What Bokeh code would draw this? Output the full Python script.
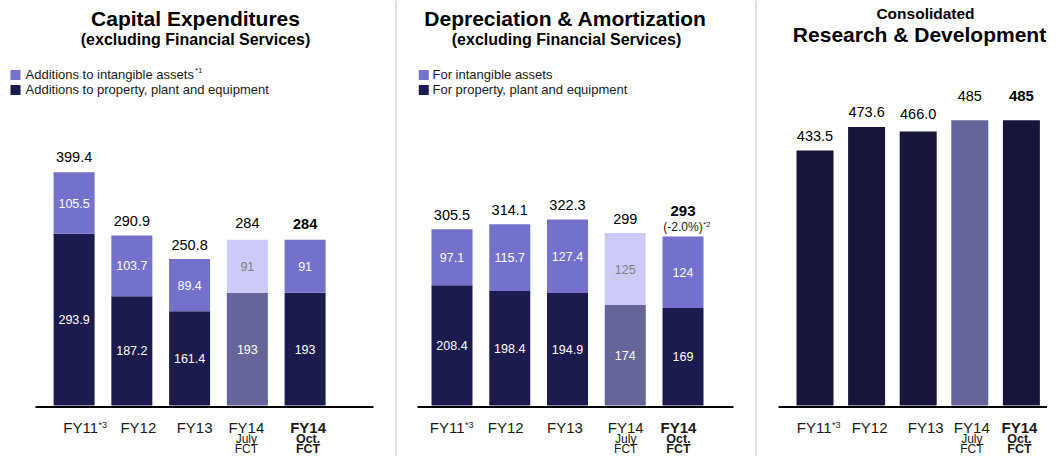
import numpy as np
from bokeh.plotting import figure
from bokeh.models import Range1d, Span
from bokeh.layouts import row
from bokeh.embed import file_html
from bokeh.resources import INLINE
from bokeh.core.properties import value

# ---------------- data ----------------
categories = ["FY11", "FY12", "FY13", "FY14", "FY14"]
cat_sup = ["*3", "", "", "", ""]
cat_line2 = ["", "", "", "July", "Oct."]
cat_line3 = ["", "", "", "FCT", "FCT"]
cat_bold = [False, False, False, False, True]
decimals = [1, 1, 1, 0, 0]
is_july = [False, False, False, True, False]

capex_intangible = [105.5, 103.7, 89.4, 91, 91]
capex_ppe = [293.9, 187.2, 161.4, 193, 193]

da_intangible = [97.1, 115.7, 127.4, 125, 124]
da_ppe = [208.4, 198.4, 194.9, 174, 169]
da_change_note = "(-2.0%)"
da_change_sup = "*2"

rd_values = [433.5, 473.6, 466.0, 485, 485]

capex_legend = ["Additions to intangible assets", "Additions to property, plant and equipment"]
da_legend = ["For intangible assets", "For property, plant and equipment"]

# ---------------- styles ----------------
FONT = "Liberation Sans"
H = 456
TOP = 0
BASE = 405          # pixel row of the zero line
DARK = "#1c1b4e"
PURPLE = "#7371cc"
LIGHT = "#cccbf8"
MUTED = "#66659a"
RD_DARK = "#17163a"
GRAY_TXT = "#808080"
TXT = "#1a1a1a"
MID = 0.355         # cap-centre above baseline, as a fraction of font size

capex_gap = [10, 9, 9, 11.5, 10]
da_gap = [9, 9, 9, 9, 20]
rd_gap = [9.5, 10, 12, 19, 19]
nudge1 = [10, 6.5, 5, -1, 3]
nudge2 = [-1.5, -4, -2.5, 0.5, -4.5]
nudge3 = [2.5, 3, 7.5, 2, -2]

S1, S2, S3 = 0.584, 0.577, 0.588
ROW1, ROW2, ROW3 = 432, 443, 453


def fmt(v, d):
    return f"{v:.{d}f}"


def build(width, ref_left, c0, step, base, scale):
    x0 = (ref_left - c0) / step
    x1 = (ref_left + width - c0) / step
    p = figure(width=width, height=H, output_backend="svg", toolbar_location=None, tools="",
               x_range=Range1d(x0, x1),
               y_range=Range1d((base - TOP - H) / scale, (base - TOP) / scale),
               min_border=0, x_axis_location=None, y_axis_location=None)
    p.xgrid.visible = False
    p.ygrid.visible = False
    p.outline_line_color = None
    p.background_fill_color = "white"
    p.border_fill_color = "white"
    X = lambda rx: (rx - c0) / step
    Y = lambda ry: (base - ry) / scale
    return p, X, Y


def label(p, x, y, t, size, bold=False, color="#000000", align="center", xoff=0):
    # y is the (data) position of the text's centre line
    p.text(x=[x], y=[y], text=[t], text_font=value(FONT), text_font_size=value(f"{size}px"),
           text_font_style="bold" if bold else "normal", text_color=color,
           text_align=align, text_baseline="middle", x_offset=xoff)


def blabel(p, Y, x, base_px, t, size, bold=False, color="#000000", align="center", xoff=0):
    # place by baseline pixel row
    label(p, x, Y(base_px - MID * size), t, size, bold, color, align, xoff)


def top_label(p, x, top, gap_px, scale, t, size, bold=False, color="#000000", align="center", xoff=0):
    label(p, x, top + (gap_px + MID * size) / scale, t, size, bold, color, align, xoff)


def x_labels(p, Y, nudge):
    for i, cat in enumerate(categories):
        b = cat_bold[i]
        if cat_sup[i]:
            blabel(p, Y, i, ROW1, cat, 15, b, TXT, "right", nudge[i] + 14)
            blabel(p, Y, i, ROW1 - 4.5, cat_sup[i], 9, b, TXT, "left", nudge[i] + 14.5)
        else:
            blabel(p, Y, i, ROW1, cat, 15, b, TXT, "center", nudge[i])
        if cat_line2[i]:
            blabel(p, Y, i, ROW2, cat_line2[i], 12.5 if b else 12, b, TXT, "center", nudge[i])
        if cat_line3[i]:
            blabel(p, Y, i, ROW3, cat_line3[i], 12.5 if b else 12, b, TXT, "center", nudge[i])


def stacked(p, idx, lower, upper, width):
    lower = np.array(lower, dtype=float)
    upper = np.array(upper, dtype=float)
    total = lower + upper
    low_col = [MUTED if j else DARK for j in is_july]
    up_col = [LIGHT if j else PURPLE for j in is_july]
    p.vbar(x=idx, width=width, bottom=0, top=lower, fill_color=low_col, line_color=None)
    p.vbar(x=idx, width=width, bottom=lower, top=total, fill_color=up_col, line_color=None)
    for i in idx:
        label(p, i, lower[i] / 2, fmt(lower[i], decimals[i]), 12.5, color="white")
        label(p, i, lower[i] + upper[i] / 2, fmt(upper[i], decimals[i]), 12.5,
              color=GRAY_TXT if is_july[i] else "white")
    return total


idx = np.arange(len(categories))

# ---------------- panel 1 : Capex ----------------
p1, X1, Y1 = build(392, 0, 73.6, 57.75, BASE, S1)
tot1 = stacked(p1, idx, capex_ppe, capex_intangible, 41 / 57.75)
for i in idx:
    top_label(p1, i, tot1[i], capex_gap[i], S1, fmt(tot1[i], decimals[i]), 14.5, cat_bold[i])
p1.segment(x0=[X1(35)], x1=[X1(373)], y0=[Y1(BASE + 1.5)], y1=[Y1(BASE + 1.5)], line_color="black", line_width=2)
x_labels(p1, Y1, nudge1)
blabel(p1, Y1, X1(195), 25, "Capital Expenditures", 21, True)
blabel(p1, Y1, X1(195), 45, "(excluding Financial Services)", 16, True)
p1.scatter(x=[X1(15), X1(15)], y=[Y1(74.5), Y1(89.5)], marker="square", size=10,
           fill_color=[PURPLE, DARK], line_color=None)
blabel(p1, Y1, X1(25), 78.5, capex_legend[0], 13, False, TXT, "left")
blabel(p1, Y1, X1(194.5), 73, "*1", 8, False, TXT, "left")
blabel(p1, Y1, X1(25), 93.5, capex_legend[1], 13, False, TXT, "left")

# ---------------- panel 2 : D&A ----------------
p2, X2, Y2 = build(360, 392, 451.5, 57.75, BASE, S2)
tot2 = stacked(p2, idx, da_ppe, da_intangible, 41 / 57.75)
for i in idx:
    top_label(p2, i, tot2[i], da_gap[i], S2, fmt(tot2[i], decimals[i]),
              15 if cat_bold[i] else 14.5, cat_bold[i])
last = len(categories) - 1
top_label(p2, last, tot2[last], 5, S2, da_change_note, 12, False, TXT)
top_label(p2, last, tot2[last], 9.5, S2, da_change_sup, 8, False, TXT, "left", 20)
p2.segment(x0=[X2(417)], x1=[X2(733)], y0=[Y2(BASE + 1.5)], y1=[Y2(BASE + 1.5)], line_color="black", line_width=2)
x_labels(p2, Y2, nudge2)
blabel(p2, Y2, X2(565), 25, "Depreciation & Amortization", 21, True)
blabel(p2, Y2, X2(566), 44.5, "(excluding Financial Services)", 16, True)
p2.scatter(x=[X2(423.3), X2(423.3)], y=[Y2(74.5), Y2(89.5)], marker="square", size=10,
           fill_color=[PURPLE, DARK], line_color=None)
blabel(p2, Y2, X2(432), 78.5, da_legend[0], 13, False, TXT, "left")
blabel(p2, Y2, X2(432), 93.5, da_legend[1], 13, False, TXT, "left")
p2.add_layout(Span(location=X2(395.5), dimension="height", line_color="#808080",
                   line_width=1, line_dash="1 1"))

# ---------------- panel 3 : R&D ----------------
p3, X3, Y3 = build(295, 752, 814.5, 51.6, BASE, S3)
rd = np.array(rd_values, dtype=float)
rd_col = [MUTED if j else RD_DARK for j in is_july]
p3.vbar(x=idx, width=37 / 51.6, bottom=0, top=rd, fill_color=rd_col, line_color=None)
for i in idx:
    top_label(p3, i, rd[i], rd_gap[i], S3, fmt(rd[i], decimals[i]),
              15 if cat_bold[i] else 14.5, cat_bold[i])
p3.segment(x0=[X3(778)], x1=[X3(1063)], y0=[Y3(BASE + 1.5)], y1=[Y3(BASE + 1.5)], line_color="black", line_width=2)
x_labels(p3, Y3, nudge3)
blabel(p3, Y3, X3(925), 18.5, "Consolidated", 15.5, True)
blabel(p3, Y3, X3(919), 41.5, "Research & Development", 21, True)
p3.add_layout(Span(location=X3(755.5), dimension="height", line_color="#808080",
                   line_width=1, line_dash="1 1"))

layout = row(p1, p2, p3)
open("out.html", "w").write(file_html(layout, INLINE))
